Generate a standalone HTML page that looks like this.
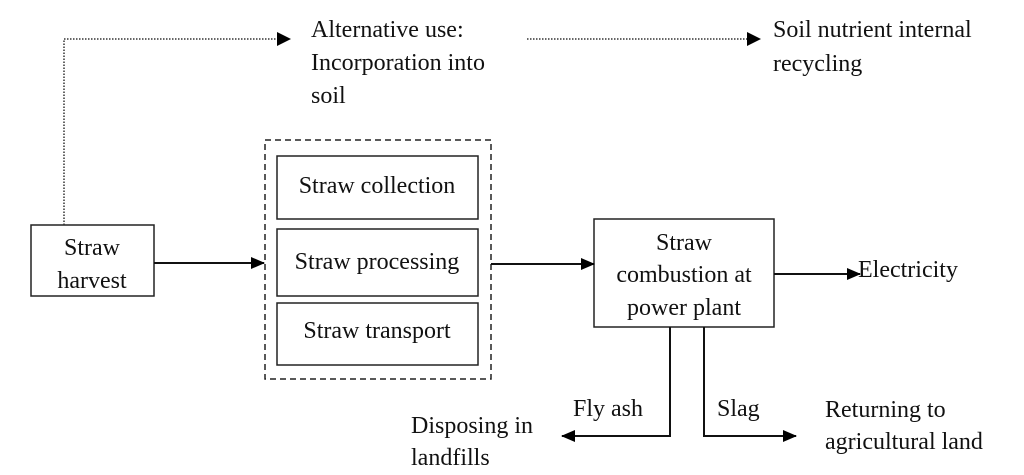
<!DOCTYPE html>
<html><head><meta charset="utf-8"><style>
html,body{margin:0;padding:0;background:#fff;}
svg{display:block;}
text{font-family:"Liberation Serif",serif;font-size:24px;fill:#111;}
</style></head><body>
<svg width="1024" height="475" viewBox="0 0 1024 475" xmlns="http://www.w3.org/2000/svg">
<defs>
<marker id="a" markerWidth="14" markerHeight="12" refX="13" refY="6" orient="auto" markerUnits="userSpaceOnUse"><path d="M0,0 L14,6 L0,12 Z" fill="#000"/></marker>
</defs>
<g fill="none" stroke="#222" stroke-width="1.5">
<rect x="31" y="225" width="123" height="71"/>
<rect x="265" y="140" width="226" height="239" stroke-dasharray="6,4"/>
<rect x="277" y="156" width="201" height="63"/>
<rect x="277" y="229" width="201" height="67"/>
<rect x="277" y="303" width="201" height="62"/>
<rect x="594" y="219" width="180" height="108"/>
</g>
<g fill="none" stroke="#111" stroke-width="2">
<line x1="154" y1="263" x2="264" y2="263" marker-end="url(#a)"/>
<line x1="491" y1="264" x2="594" y2="264" marker-end="url(#a)"/>
<line x1="774" y1="274" x2="860" y2="274" marker-end="url(#a)"/>
<polyline points="670,327 670,436 562,436" marker-end="url(#a)"/>
<polyline points="704,327 704,436 796,436" marker-end="url(#a)"/>
</g>
<g fill="none" stroke="#333" stroke-width="1.5" stroke-dasharray="1.5,1.5">
<polyline points="64,225 64,39 280,39"/>
<line x1="527" y1="39" x2="750" y2="39"/>
</g>
<path d="M277,32 L291,39 L277,46 Z" fill="#000"/>
<path d="M747,32 L761,39 L747,46 Z" fill="#000"/>
<text x="311" y="37">Alternative use:</text>
<text x="311" y="70">Incorporation into</text>
<text x="311" y="103">soil</text>
<text x="773" y="37">Soil nutrient internal</text>
<text x="773" y="71">recycling</text>
<g text-anchor="middle">
<text x="92" y="255">Straw</text>
<text x="92" y="288">harvest</text>
<text x="377" y="193">Straw collection</text>
<text x="377" y="269">Straw processing</text>
<text x="377" y="338">Straw transport</text>
<text x="684" y="250">Straw</text>
<text x="684" y="282">combustion at</text>
<text x="684" y="315">power plant</text>
</g>
<text x="858" y="277">Electricity</text>
<text x="573" y="416">Fly ash</text>
<text x="717" y="416">Slag</text>
<text x="411" y="433">Disposing in</text>
<text x="411" y="465">landfills</text>
<text x="825" y="417">Returning to</text>
<text x="825" y="449">agricultural land</text>
</svg>
</body></html>
